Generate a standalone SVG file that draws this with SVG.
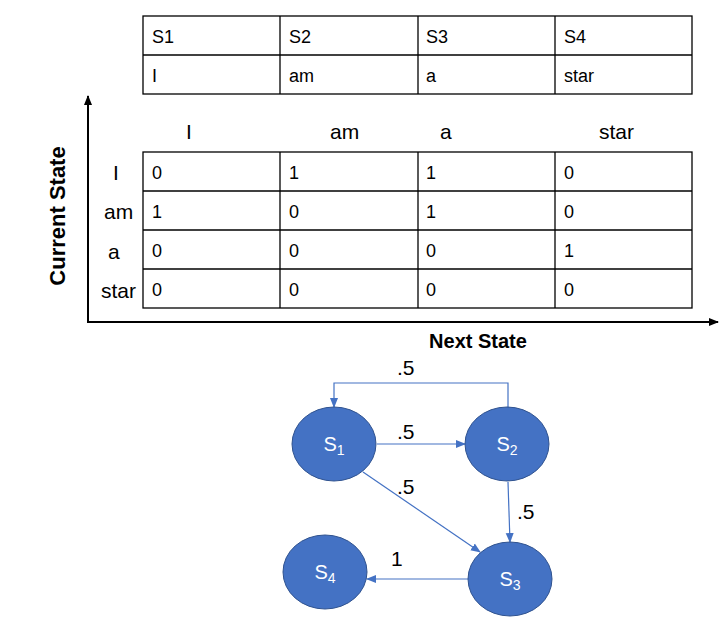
<svg xmlns="http://www.w3.org/2000/svg" width="724" height="622" viewBox="0 0 724 622">
<defs>
<style>
.grid{fill:none;stroke:#000;stroke-width:1.3}
.t{font-family:"Liberation Sans",Arial,sans-serif;font-size:18px;fill:#000}
.h{font-family:"Liberation Sans",Arial,sans-serif;font-size:21px;fill:#000}
.b{font-family:"Liberation Sans",Arial,sans-serif;font-weight:bold;fill:#000}
.node{fill:#4472C4;stroke:#2F528F;stroke-width:1}
.nt{font-family:"Liberation Sans",Arial,sans-serif;font-size:20px;fill:#fff;text-anchor:middle}
.conn{fill:none;stroke:#4472C4;stroke-width:1.2}
.ax{fill:none;stroke:#000;stroke-width:2}
.lbl{font-family:"Liberation Sans",Arial,sans-serif;font-size:21px;fill:#000}
</style>
<marker id="arr" markerWidth="10" markerHeight="10" refX="9" refY="5" orient="auto" markerUnits="userSpaceOnUse">
<path d="M0,1 L10,5 L0,9 z" fill="#4472C4"/>
</marker>
<marker id="axarr" markerWidth="10" markerHeight="10" refX="9" refY="5" orient="auto" markerUnits="userSpaceOnUse">
<path d="M0,1 L10,5 L0,9 z" fill="#000"/>
</marker>
</defs>

<g id="vocab-table">
<rect class="grid" x="143" y="16" width="549" height="78"/>
<line class="grid" x1="143" y1="55" x2="692" y2="55"/>
<line class="grid" x1="280" y1="16" x2="280" y2="94"/>
<line class="grid" x1="418" y1="16" x2="418" y2="94"/>
<line class="grid" x1="555" y1="16" x2="555" y2="94"/>
<text class="t" x="152" y="43">S1</text>
<text class="t" x="289" y="43">S2</text>
<text class="t" x="426" y="43">S3</text>
<text class="t" x="564" y="43">S4</text>
<text class="t" x="152" y="82">I</text>
<text class="t" x="289" y="82">am</text>
<text class="t" x="426" y="82">a</text>
<text class="t" x="564" y="82">star</text>
</g>

<g id="axes">
<line class="ax" x1="88" y1="322" x2="88" y2="96" marker-end="url(#axarr)"/>
<line class="ax" x1="87" y1="322" x2="718" y2="322" marker-end="url(#axarr)"/>
<text class="b" font-size="22" transform="translate(65,216) rotate(-90)" text-anchor="middle">Current State</text>
<text class="b" font-size="20" x="478" y="348" text-anchor="middle">Next State</text>
</g>

<g id="matrix">
<rect class="grid" x="143" y="152" width="549" height="156"/>
<line class="grid" x1="143" y1="191" x2="692" y2="191"/>
<line class="grid" x1="143" y1="230" x2="692" y2="230"/>
<line class="grid" x1="143" y1="269" x2="692" y2="269"/>
<line class="grid" x1="280" y1="152" x2="280" y2="308"/>
<line class="grid" x1="418" y1="152" x2="418" y2="308"/>
<line class="grid" x1="555" y1="152" x2="555" y2="308"/>
<text class="h" x="186" y="139">I</text>
<text class="h" x="330" y="139">am</text>
<text class="h" x="440" y="139">a</text>
<text class="h" x="599" y="139">star</text>
<text class="h" x="113" y="180">I</text>
<text class="h" x="104" y="219">am</text>
<text class="h" x="108" y="259">a</text>
<text class="h" x="101" y="298">star</text>
<text class="t" x="152" y="179">0</text><text class="t" x="289" y="179">1</text><text class="t" x="426" y="179">1</text><text class="t" x="564" y="179">0</text>
<text class="t" x="152" y="218">1</text><text class="t" x="289" y="218">0</text><text class="t" x="426" y="218">1</text><text class="t" x="564" y="218">0</text>
<text class="t" x="152" y="257">0</text><text class="t" x="289" y="257">0</text><text class="t" x="426" y="257">0</text><text class="t" x="564" y="257">1</text>
<text class="t" x="152" y="296">0</text><text class="t" x="289" y="296">0</text><text class="t" x="426" y="296">0</text><text class="t" x="564" y="296">0</text>
</g>

<g id="connectors">
<polyline class="conn" points="508,407 508,383 334,383 334,407" marker-end="url(#arr)"/>
<line class="conn" x1="377" y1="444" x2="465" y2="444" marker-end="url(#arr)"/>
<line class="conn" x1="363" y1="472" x2="480" y2="552" marker-end="url(#arr)"/>
<line class="conn" x1="508" y1="482" x2="510" y2="542" marker-end="url(#arr)"/>
<line class="conn" x1="468" y1="579" x2="367" y2="579" marker-end="url(#arr)"/>
<text class="lbl" x="397" y="375">.5</text>
<text class="lbl" x="397" y="439">.5</text>
<text class="lbl" x="397" y="494">.5</text>
<text class="lbl" x="517" y="519">.5</text>
<text class="lbl" x="391" y="566">1</text>
</g>

<g id="S1">
<ellipse class="node" cx="334" cy="444" rx="42" ry="37"/>
<text class="nt" x="334" y="451">S<tspan font-size="14" dy="4">1</tspan></text>
</g>
<g id="S2">
<ellipse class="node" cx="507" cy="444" rx="42" ry="37"/>
<text class="nt" x="507" y="451">S<tspan font-size="14" dy="4">2</tspan></text>
</g>
<g id="S3">
<ellipse class="node" cx="510" cy="579" rx="42" ry="37"/>
<text class="nt" x="510" y="586">S<tspan font-size="14" dy="4">3</tspan></text>
</g>
<g id="S4">
<ellipse class="node" cx="325" cy="572" rx="42" ry="37"/>
<text class="nt" x="325" y="579">S<tspan font-size="14" dy="4">4</tspan></text>
</g>
</svg>
